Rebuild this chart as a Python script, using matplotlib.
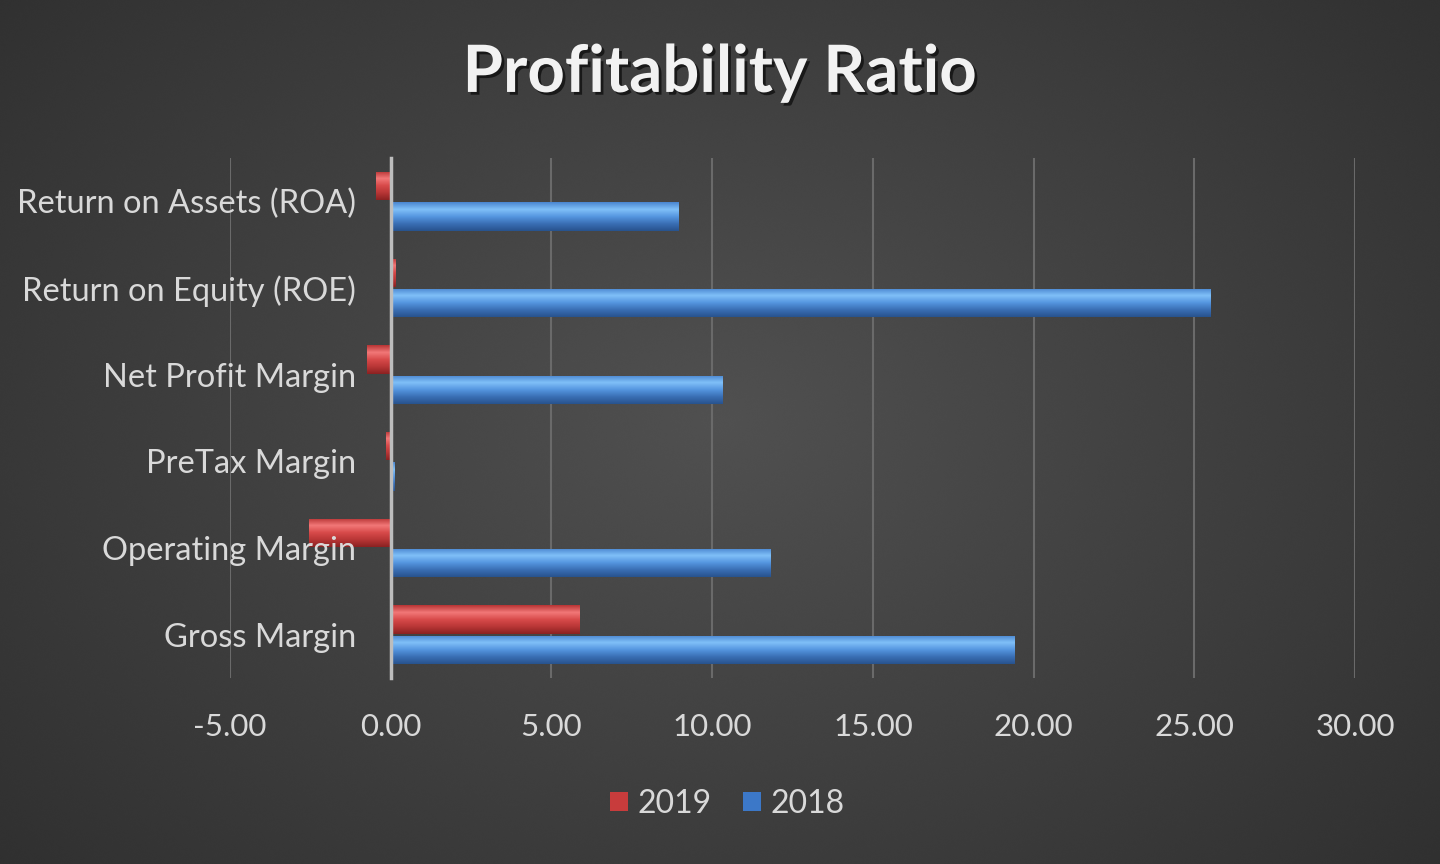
import numpy as np
import matplotlib
matplotlib.use("Agg")
import matplotlib.pyplot as plt
import matplotlib.patheffects as pe
from matplotlib.colors import LinearSegmentedColormap

# data (bottom to top)
categories = ["Gross Margin", "Operating Margin", "PreTax Margin",
              "Net Profit Margin", "Return on Equity (ROE)", "Return on Assets (ROA)"]
vals_2019 = [5.85, -2.55, -0.15, -0.75, 0.15, -0.45]
vals_2018 = [19.4, 11.8, 0.1, 10.3, 25.5, 8.95]
xticks = [-5, 0, 5, 10, 15, 20, 25, 30]

plt.rcParams['font.family'] = ['Lato', 'DejaVu Sans']
txt = '#d9d9d9'

fig = plt.figure(figsize=(14.4, 8.64), dpi=100)

# radial dark background
bg = fig.add_axes([0, 0, 1, 1])
yy, xx = np.mgrid[0:864, 0:1440]
r = np.sqrt(((xx - 720) / 900.0) ** 2 + ((yy - 420) / 650.0) ** 2)
shade = np.clip(0.315 - 0.12 * r, 0.18, 0.315)
shade = shade + np.random.default_rng(0).uniform(-0.002, 0.002, shade.shape)  # dither
bg.imshow(np.dstack([shade] * 3), aspect='auto', extent=[0, 1, 0, 1])
bg.set_axis_off()

ax = fig.add_axes([0.1597, 0.2153, 0.7813, 0.6018])
ax.set_facecolor('none')

red_cm = LinearSegmentedColormap.from_list('r', ['#b83535', '#f27878', '#d84a4a', '#b83636', '#8c2222'])
blue_cm = LinearSegmentedColormap.from_list('b', ['#4a86d0', '#80c0f8', '#5596e0', '#3a6fb5', '#28538e'])

y = np.arange(len(categories))
h = 0.33
off = 0.175
b19 = ax.barh(y + off, vals_2019, height=h, color='#c83c3c', label='2019', zorder=3)
b18 = ax.barh(y - off, vals_2018, height=h, color='#3c78c8', label='2018', zorder=3)

grad = np.linspace(0, 1, 64).reshape(-1, 1)
for bars, cm in [(b19, red_cm), (b18, blue_cm)]:
    for p in bars:
        x0, y0, w, hh = p.get_x(), p.get_y(), p.get_width(), p.get_height()
        im = ax.imshow(grad, cmap=cm, aspect='auto', zorder=4,
                       extent=[x0, x0 + w, y0, y0 + hh], origin='upper')
        im.set_clip_path(p)

for s in ['top', 'right', 'bottom']:
    ax.spines[s].set_visible(False)
ax.spines['left'].set_position(('data', 0))
ax.spines['left'].set_color('#bdbdbd')
ax.spines['left'].set_linewidth(2.5)
ax.spines['left'].set_zorder(5)

ax.set_xlim(-5, 30)
ax.set_ylim(-0.5, 5.5)
ax.set_xticks(xticks)
ax.set_xticklabels(["%.2f" % v for v in xticks], color=txt, fontsize=22.5)
ax.set_yticks(y)
ax.set_yticklabels(categories, color=txt, fontsize=23.5)
ax.tick_params(axis='both', length=0)
ax.tick_params(axis='x', pad=25)
ax.tick_params(axis='y', pad=25)
ax.grid(axis='x', color='#6a6a6a', linewidth=1.5, zorder=0)
ax.yaxis.set_zorder(6)

fig.text(0.4995, 0.915, "Profitability Ratio", ha='center', va='center',
         fontsize=47, fontweight='bold', color='#f2f2f2',
         path_effects=[pe.SimplePatchShadow(offset=(2, -2), shadow_rgbFace='black', alpha=0.6), pe.Normal()])

leg = fig.legend(handles=[b19, b18], labels=['2019', '2018'], loc='center',
                 bbox_to_anchor=(0.505, 0.07), ncol=2, frameon=False,
                 fontsize=23, handlelength=0.55, handleheight=0.55,
                 handletextpad=0.3, columnspacing=1.0)
for t in leg.get_texts():
    t.set_color(txt)

fig.savefig('out.png', dpi=100)
